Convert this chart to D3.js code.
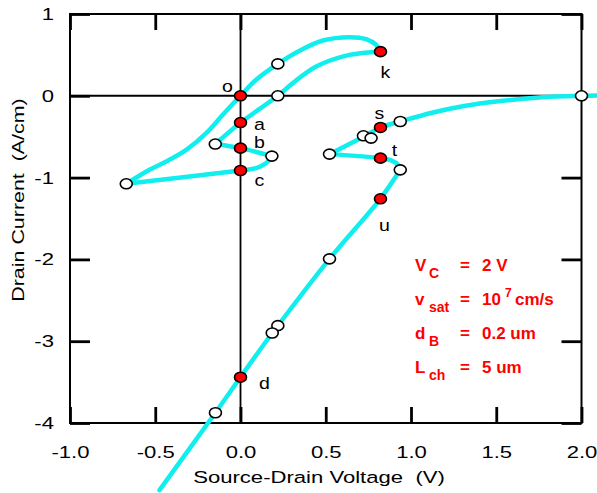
<!DOCTYPE html>
<html>
<head>
<meta charset="utf-8">
<script src="https://cdn.jsdelivr.net/npm/d3@7/dist/d3.min.js"></script>
<style>
  body { margin: 0; background: #fff; }
  svg text { font-family: "Liberation Sans", Arial, sans-serif; white-space: pre; }
</style>
</head>
<body>
<div id="chart"></div>
<script>
var width = 597,
    height = 493;

// axis ticks
var xTicks = [-1, -0.5, 0, 0.5, 1, 1.5, 2];
var yTicks = [1, 0, -1, -2, -3, -4];

// curve pieces (source-drain voltage V, drain current A/cm)
var riseBranch = [[-0.475,-4.82],[-0.147,-3.875],[0,-3.44],[0.186,-2.90],[0.219,-2.81],
                  [0.522,-1.993],[0.82,-1.259],[0.937,-0.905]];
var tBranch = [[0.937,-0.905],[0.923,-0.843],[0.884,-0.79],[0.82,-0.762],[0.522,-0.713]];
var tailBranch = [[0.522,-0.713],[0.721,-0.50],[0.82,-0.387],[0.937,-0.314],[1.13,-0.204],
                  [1.32,-0.122],[1.5,-0.07],[1.75,-0.022],[2.0,0],[2.1,0.004]];
var loopUpper = [[-0.67,-1.076],[-0.534,-0.905],[-0.436,-0.803],[-0.318,-0.66],[-0.201,-0.456],
                 [-0.104,-0.232],[0,0],[0.092,0.196],[0.219,0.39],[0.346,0.55],[0.483,0.676],
                 [0.639,0.717],[0.737,0.693],[0.796,0.623],[0.821,0.54]];
var loopLower = [[0.821,0.54],[0.639,0.50],[0.444,0.358],[0.307,0.155],[0.219,0],[0,-0.33],[-0.148,-0.59]];
var loopInner1 = [[-0.148,-0.59],[0,-0.64],[0.184,-0.737]];
var loopInner2 = [[0.184,-0.737],[0.151,-0.823],[0.092,-0.884],[0,-0.913],[-0.67,-1.076]];

var openMarkers = [[0.219,0.39],[0.219,0],[-0.148,-0.59],[0.184,-0.737],[-0.67,-1.076],
                   [0.937,-0.314],[0.721,-0.489],[0.766,-0.517],[0.522,-0.713],[0.937,-0.905],
                   [2.0,0],[0.522,-1.993],[0.219,-2.81],[0.186,-2.90],[-0.147,-3.875]];
var redLabels = ["o","a","b","c","k","s","t","u","d"];
var redV = [0, 0, 0, 0, 0.821, 0.821, 0.821, 0.821, 0];
var redI = [0, -0.327, -0.64, -0.913, 0.54, -0.387, -0.762, -1.259, -3.44];

// parameter legend
var paramMain = ["V", "v", "d", "L"];
var paramSub = ["C", "sat", "B", "ch"];
var paramValue = ["2 V", "10", "0.2 um", "5 um"];

var labelOffset = {o:[-13,-10], a:[19,1], b:[19,-6], c:[19,9], k:[5,20],
                   s:[-1,-14], t:[14,-8], u:[4,26], d:[24,6]};

// the original's axis lettering is horizontally stretched
var stretch = 1.3;

var svg = d3.select("#chart")
  .append("svg")
  .attr("width", width)
  .attr("height", height);

var x = d3.scaleLinear().domain([-1, 2]).range([70, 581.5]);
var y = d3.scaleLinear().domain([-4, 1]).range([423, 14]);

// zero lines
svg.append("line")
  .attr("x1", x(-1)).attr("x2", x(2)).attr("y1", y(0)).attr("y2", y(0))
  .attr("stroke", "#000").attr("stroke-width", 2);
svg.append("line")
  .attr("x1", x(0)).attr("x2", x(0)).attr("y1", y(1)).attr("y2", y(-4))
  .attr("stroke", "#000").attr("stroke-width", 1.8);

// frame
svg.append("rect")
  .attr("x", x(-1)).attr("y", y(1))
  .attr("width", x(2) - x(-1)).attr("height", y(-4) - y(1))
  .attr("fill", "none").attr("stroke", "#000").attr("stroke-width", 2);

function styleAxis(g) {
  g.select(".domain").remove();
  g.selectAll(".tick line").attr("stroke", "#000").attr("stroke-width", 2.8);
  g.selectAll(".tick text").attr("fill", "#000").style("font-size", "17px")
    .style("font-family", "'Liberation Sans', Arial, sans-serif");
}

function hyphen(fmt) {
  return function(d){ return fmt(d).replace("\u2212", "-") };
}

svg.append("g")
  .attr("transform", "translate(0," + y(-4) + ")")
  .call(d3.axisBottom(x).tickValues(xTicks).tickSize(-16).tickPadding(23)
        .tickFormat(hyphen(d3.format(".1f"))))
  .call(styleAxis)
  .selectAll(".tick text")
  .attr("transform", "scale(" + stretch + ",1)");
svg.append("g")
  .attr("transform", "translate(0," + y(1) + ")")
  .call(d3.axisTop(x).tickValues(xTicks).tickSize(-16).tickFormat(""))
  .call(styleAxis);
svg.append("g")
  .attr("transform", "translate(" + x(-1) + ",0)")
  .call(d3.axisLeft(y).tickValues(yTicks).tickSize(-20).tickPadding(16)
        .tickFormat(hyphen(d3.format("d"))))
  .call(styleAxis)
  .selectAll(".tick text")
  .attr("x", -16 / stretch)
  .attr("transform", "scale(" + stretch + ",1)");
svg.append("g")
  .attr("transform", "translate(" + x(2) + ",0)")
  .call(d3.axisRight(y).tickValues(yTicks).tickSize(-20).tickFormat(""))
  .call(styleAxis);

// axis titles
svg.append("text")
  .attr("transform", "translate(319,483) scale(" + stretch + ",1)")
  .attr("text-anchor", "middle")
  .style("font-size", "17px")
  .text("Source-Drain Voltage  (V)");
svg.append("text")
  .attr("transform", "translate(24,200) rotate(-90) scale(1.26,1)")
  .attr("text-anchor", "middle")
  .style("font-size", "17px")
  .text("Drain Current  (A/cm)");

// curve
var line = d3.line()
  .x(function(d){ return x(d[0]) })
  .y(function(d){ return y(d[1]) })
  .curve(d3.curveCatmullRom.alpha(0.5));

var pieces = [riseBranch, tBranch, tailBranch, loopUpper, loopLower, loopInner1, loopInner2];
svg.selectAll(".piece")
  .data(pieces)
  .enter()
  .append("path")
  .attr("class", "piece")
  .attr("d", line)
  .attr("fill", "none")
  .attr("stroke", "#11eeee")
  .attr("stroke-width", 4.5)
  .attr("stroke-linecap", "round")
  .attr("stroke-linejoin", "round");

// markers
svg.selectAll(".open")
  .data(openMarkers)
  .enter()
  .append("ellipse")
  .attr("class", "open")
  .attr("cx", function(d){ return x(d[0]) })
  .attr("cy", function(d){ return y(d[1]) })
  .attr("rx", 6).attr("ry", 5)
  .attr("fill", "#fff").attr("stroke", "#000").attr("stroke-width", 1.6);

var redData = redLabels.map(function(l, i){ return {label: l, v: redV[i], c: redI[i]} });

svg.selectAll(".red")
  .data(redData)
  .enter()
  .append("ellipse")
  .attr("class", "red")
  .attr("cx", function(d){ return x(d.v) })
  .attr("cy", function(d){ return y(d.c) })
  .attr("rx", 6).attr("ry", 5)
  .attr("fill", "#ff0000").attr("stroke", "#000").attr("stroke-width", 1.6);

svg.selectAll(".lab")
  .data(redData)
  .enter()
  .append("text")
  .attr("class", "lab")
  .attr("transform", function(d){
    return "translate(" + (x(d.v) + labelOffset[d.label][0]) + "," +
           (y(d.c) + labelOffset[d.label][1]) + ") scale(1.15,1)";
  })
  .attr("text-anchor", "middle")
  .attr("dominant-baseline", "central")
  .style("font-size", "17px")
  .text(function(d){ return d.label });

// parameter legend
var legend = svg.append("g")
  .attr("fill", "#ff0000")
  .style("font-weight", "bold");

paramMain.forEach(function(m, i){
  var base = 271 + i * 34;
  legend.append("text").attr("x", 415).attr("y", base).style("font-size", "17px").text(m);
  legend.append("text").attr("x", 429).attr("y", base + 7).style("font-size", "14px").text(paramSub[i]);
  legend.append("text").attr("x", 460).attr("y", base).style("font-size", "17px").text("=");
  legend.append("text").attr("x", 482).attr("y", base).style("font-size", "17px").text(paramValue[i]);
  if (i === 1) {
    legend.append("text").attr("x", 505).attr("y", base - 8).style("font-size", "12px").text("7");
    legend.append("text").attr("x", 515).attr("y", base).style("font-size", "17px").text("cm/s");
  }
});
</script>
</body>
</html>
